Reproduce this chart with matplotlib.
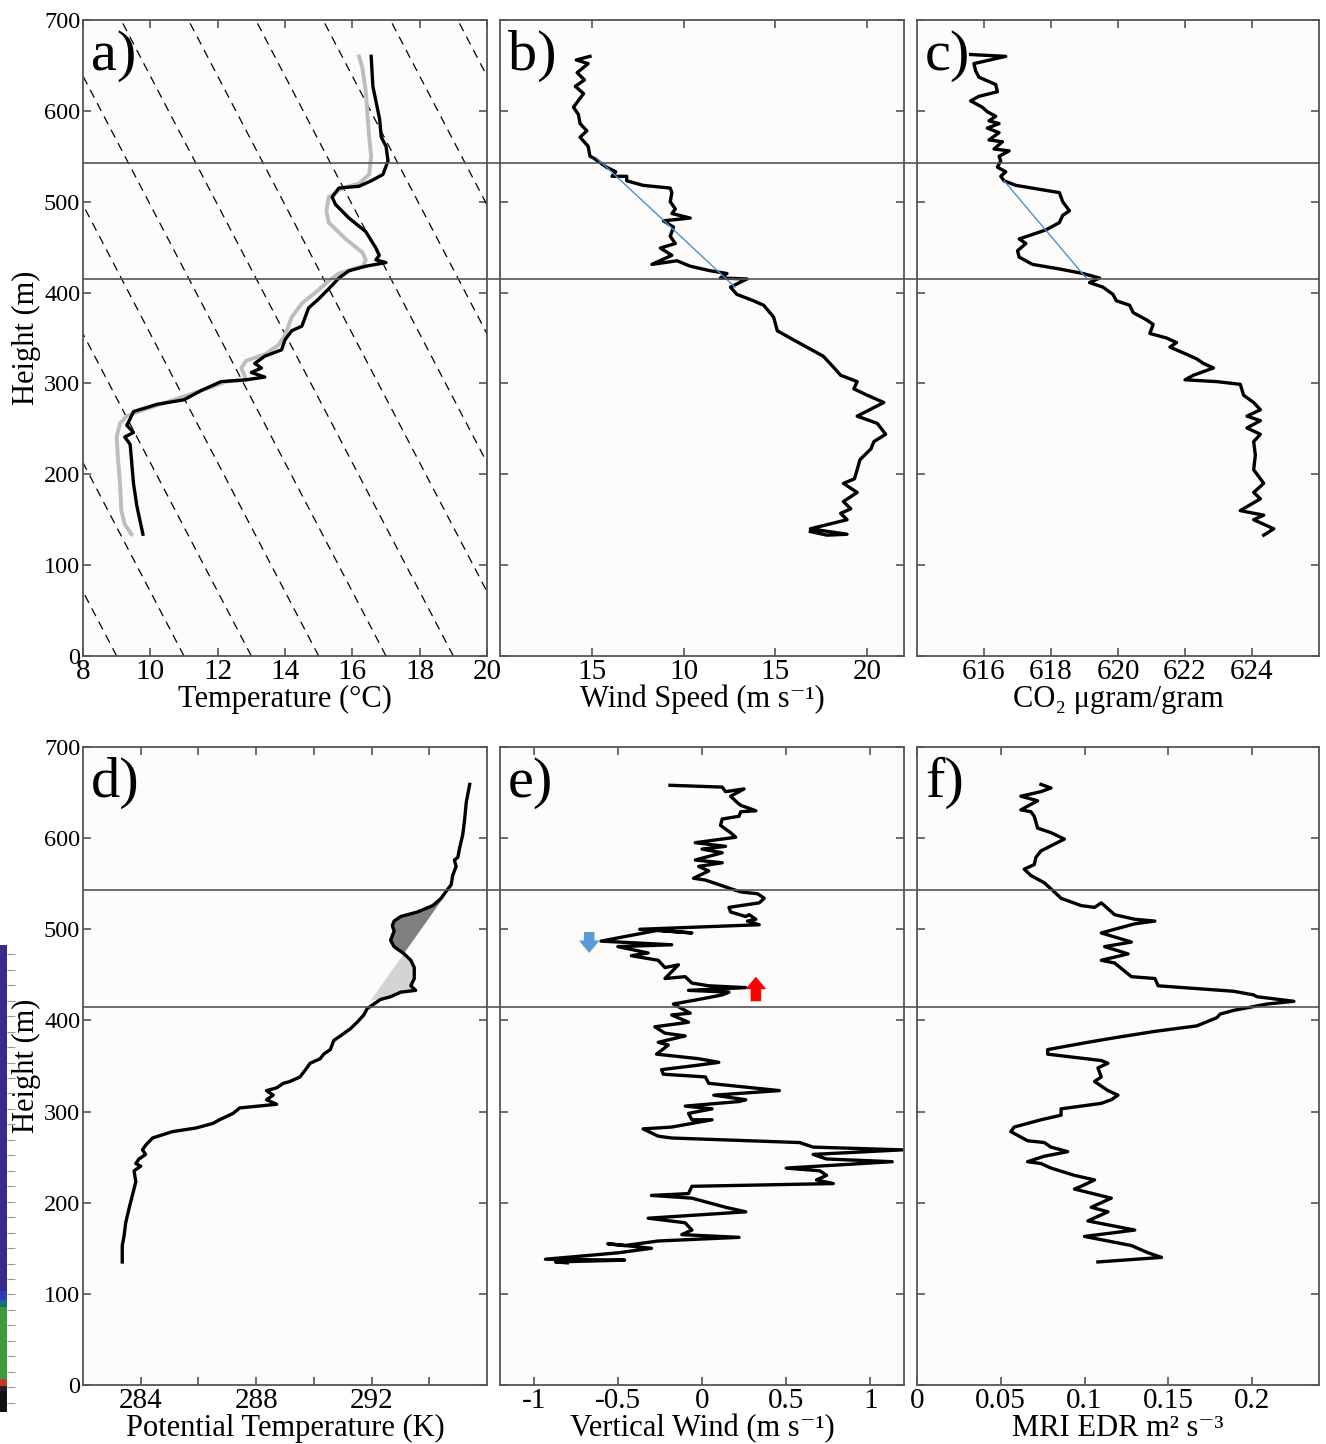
import matplotlib
matplotlib.use('Agg')
import matplotlib.pyplot as plt
import matplotlib.transforms as mtransforms
from matplotlib.lines import Line2D
import numpy as np

plt.rcParams['font.family'] = ['Liberation Serif', 'DejaVu Serif']
plt.rcParams['axes.unicode_minus'] = False

# ---- data (height in m) ----
layer_heights = [543, 415]

# a) temperature profiles
a_black_z = [660, 627, 591, 571, 561, 545, 530, 523, 517, 515, 505, 497, 482, 467, 449, 441, 436, 433,
             429, 424, 416, 408, 393, 383, 373, 363, 358, 348, 337, 330, 322, 317, 312, 307, 304, 302,
             292, 282, 277, 269, 261, 254, 246, 241, 233, 216, 190, 165, 134]
a_black_t = [16.56, 16.61, 16.81, 16.86, 17.0, 17.06, 16.91, 16.56, 16.2, 15.6, 15.4, 15.5, 15.9, 16.4,
             16.7, 16.8, 16.7, 17.0, 16.4, 15.9, 15.6, 15.4, 15.0, 14.7, 14.6, 14.5, 14.2, 14.0, 13.9,
             13.4, 13.1, 13.3, 13.0, 13.4, 12.85, 12.1, 11.5, 11.0, 10.2, 9.5, 9.4, 9.3, 9.5, 9.24,
             9.4, 9.44, 9.5, 9.6, 9.78]
a_gray_z = [660, 647, 621, 591, 571, 550, 530, 520, 515, 505, 490, 477, 459, 444, 436, 429, 421, 413,
            403, 388, 373, 353, 342, 332, 325, 317, 304, 302, 292, 282, 271, 264, 256, 241, 216, 190,
            160, 145, 134]
a_gray_t = [16.2, 16.3, 16.4, 16.46, 16.5, 16.56, 16.5, 16.2, 15.7, 15.3, 15.23, 15.3, 15.8, 16.3,
            16.4, 16.3, 15.6, 15.3, 15.0, 14.5, 14.2, 14.0, 13.8, 13.4, 12.85, 12.7, 12.85, 12.26,
            11.5, 10.7, 9.8, 9.3, 9.1, 9.0, 9.04, 9.1, 9.14, 9.24, 9.44]
# reference dashed lines: surface temperature and lapse rate (degC per m)
ref_t0 = [9, 11, 13, 15, 17, 19, 21, 23, 25, 27, 29]
ref_lapse = 0.0141

# b) wind speed
b_z = [660, 656, 652, 642, 634, 627, 619, 604, 596, 586, 578, 571, 561, 550, 548, 543, 538, 533, 528,
       528, 523, 518, 515, 510, 500, 492, 487, 482, 479, 472, 462, 454, 449, 441, 431, 435, 429, 424,
       421, 416, 415, 406, 398, 391, 386, 373, 358, 350, 340, 330, 317, 309, 302, 294, 287, 279, 264,
       256, 244, 236, 228, 216, 205, 195, 190, 180, 170, 162, 157, 150, 140, 134, 133, 137]
b_v = [4.9, 4.15, 4.8, 4.2, 4.6, 4.1, 4.55, 4.0, 4.27, 4.36, 4.73, 4.36, 4.8, 4.9, 5.1, 5.45, 5.8, 6.3,
       6.1, 6.9, 6.9, 7.8, 9.27, 9.36, 9.27, 9.55, 9.36, 10.36, 8.9, 9.45, 9.27, 9.55, 8.73, 9.36,
       8.27, 9.64, 10.36, 11.45, 12.36, 12.0, 13.45, 12.55, 12.9, 13.8, 14.36, 14.9, 15.1, 15.8, 16.7,
       17.6, 18.2, 18.55, 19.45, 19.27, 20.0, 20.9, 19.45, 20.55, 21.0, 20.36, 20.2, 19.6, 19.45, 19.3,
       18.7, 19.45, 18.7, 19.1, 18.55, 18.9, 16.9, 18.9, 17.8, 16.9]
b_fit_z = [548, 406]
b_fit_v = [5.27, 12.8]
b_ticks = [5, 10, 15, 20]
b_ticklabels = ['15', '10', '15', '20']

# c) CO2
c_z = [662, 660, 652, 644, 637, 629, 621, 616, 611, 604, 599, 594, 589, 586, 581, 576, 568, 566, 558,
       556, 550, 545, 538, 533, 528, 523, 518, 510, 500, 490, 485, 477, 469, 464, 459, 454, 446, 439,
       431, 426, 421, 416, 411, 406, 398, 391, 386, 378, 370, 365, 355, 350, 345, 340, 332, 327, 322,
       317, 309, 304, 302, 299, 287, 279, 271, 264, 259, 251, 244, 236, 221, 205, 190, 180, 173, 160,
       155, 150, 140, 133]
c_v = [615.6, 616.65, 615.7, 615.75, 615.85, 616.35, 616.4, 615.85, 615.6, 615.95, 616.1, 616.35,
       616.15, 616.45, 616.1, 616.45, 616.15, 616.55, 616.3, 616.75, 616.45, 616.5, 616.4, 616.65,
       616.5, 616.6, 616.95, 618.25, 618.35, 618.55, 618.35, 618.25, 617.85, 617.45, 617.05, 617.25,
       617.0, 617.05, 617.45, 618.25, 618.95, 619.45, 619.15, 619.55, 619.85, 619.95, 620.35, 620.45,
       620.85, 621.05, 620.95, 621.45, 621.75, 621.55, 622.05, 622.35, 622.55, 622.85, 622.25, 622.0,
       622.95, 623.65, 623.75, 624.05, 624.25, 623.85, 624.25, 623.85, 624.25, 624.05, 624.1, 624.05,
       624.35, 624.05, 624.25, 623.65, 624.35, 624.05, 624.65, 624.35]
c_fit_z = [523, 416]
c_fit_v = [616.6, 619.05]

# d) potential temperature
d_z = [659, 639, 619, 604, 589, 579, 576, 569, 559, 549, 544, 534, 526, 519, 514, 509, 504, 498, 488,
       481, 473, 466, 458, 446, 438, 433, 431, 426, 423, 418, 413, 406, 398, 391, 383, 378, 368, 363,
       358, 353, 348, 338, 333, 331, 326, 323, 318, 313, 308, 304, 298, 291, 287, 282, 278, 271, 263,
       258, 253, 248, 243, 240, 235, 223, 208, 193, 178, 163, 153, 135]
d_t = [295.4, 295.28, 295.22, 295.16, 295.05, 294.99, 294.87, 294.93, 294.81, 294.76, 294.64, 294.41,
       294.12, 293.59, 293.01, 292.78, 292.72, 292.78, 292.66, 292.78, 293.13, 293.36, 293.48, 293.48,
       293.36, 293.53, 293.01, 292.66, 292.31, 292.08, 291.85, 291.73, 291.5, 291.27, 290.92, 290.69,
       290.57, 290.34, 290.22, 289.87, 289.76, 289.52, 289.17, 288.94, 288.71, 288.36, 288.59, 288.36,
       288.71, 287.43, 287.2, 286.73, 286.5, 285.92, 285.1, 284.41, 284.17, 284.06, 284.17, 283.94,
       283.83, 284.0, 283.77, 283.83, 283.71, 283.59, 283.48, 283.42, 283.36, 283.36]
d_mix_z = [422, 543]
d_mix_t = [291.94, 294.65]

# e) vertical wind
e_z = [658, 656, 651, 654, 646, 639, 636, 630, 629, 624, 621, 614, 606, 601, 599, 595, 591, 588, 584,
       576, 573, 569, 564, 556, 554, 549, 544, 541, 539, 534, 529, 526, 524, 519, 514, 516, 511, 509,
       505, 500, 496, 499, 487, 483, 481, 474, 471, 466, 458, 461, 446, 448, 441, 438, 436, 433, 431,
       428, 423, 418, 408, 406, 398, 393, 386, 383, 376, 373, 363, 358, 354, 351, 346, 341, 338, 331,
       323, 318, 313, 311, 306, 303, 298, 291, 291, 283, 281, 273, 271, 266, 261, 258, 253, 248, 245,
       238, 235, 230, 225, 221, 218, 210, 208, 205, 195, 190, 183, 178, 170, 165, 162, 158, 153, 155,
       150, 145, 138, 137, 135, 134]
e_v = [-0.19, 0.12, 0.14, 0.25, 0.17, 0.21, 0.23, 0.32, 0.23, 0.22, 0.12, 0.11, 0.17, 0.2, 0.12,
       -0.04, 0.14, 0.0, 0.12, -0.04, 0.12, -0.02, 0.04, -0.05, 0.02, 0.1, 0.18, 0.23, 0.33, 0.37,
       0.34, 0.23, 0.16, 0.17, 0.26, 0.28, 0.32, 0.27, 0.34, -0.37, -0.06, -0.26, -0.6, -0.18, -0.5,
       -0.32, -0.42, -0.26, -0.22, -0.14, -0.22, -0.1, -0.06, 0.04, 0.26, -0.08, 0.16, 0.12, -0.02,
       -0.17, -0.07, -0.18, -0.08, -0.28, -0.22, -0.1, -0.26, -0.2, -0.27, -0.02, 0.1, -0.02, -0.24,
       -0.23, 0.02, 0.04, 0.46, 0.07, 0.26, 0.22, -0.1, 0.06, -0.08, -0.06, 0.06, -0.18, -0.35, -0.26,
       -0.18, 0.58, 0.66, 1.19, 0.66, 0.74, 1.13, 0.5, 0.7, 0.74, 0.68, 0.78, -0.06, -0.08, -0.3,
       -0.06, 0.14, 0.26, -0.32, -0.1, -0.06, -0.12, 0.22, -0.26, -0.46, -0.56, -0.3, -0.5, -0.93,
       -0.46, -0.87, -0.8]
down_arrow = (-0.67, 497, 474)   # x, tail z, tip z
up_arrow = (0.32, 421, 448)

# f) EDR
f_z = [659, 655, 651, 646, 641, 631, 629, 624, 611, 606, 599, 586, 579, 571, 566, 559, 551, 541, 534,
       526, 524, 529, 516, 511, 509, 506, 496, 486, 481, 473, 466, 463, 448, 446, 438, 432, 428, 426,
       421, 418, 411, 407, 403, 394, 388, 381, 376, 368, 363, 356, 353, 348, 338, 333, 323, 318, 313,
       309, 303, 296, 291, 283, 278, 268, 266, 261, 256, 251, 245, 243, 238, 230, 225, 218, 215, 205,
       195, 190, 180, 170, 163, 153, 145, 140, 135]
f_v = [0.074, 0.080, 0.074, 0.062, 0.072, 0.062, 0.068, 0.070, 0.072, 0.080, 0.088, 0.074, 0.071,
       0.070, 0.064, 0.068, 0.076, 0.082, 0.086, 0.098, 0.106, 0.110, 0.118, 0.130, 0.142, 0.130,
       0.110, 0.128, 0.112, 0.126, 0.110, 0.118, 0.128, 0.142, 0.144, 0.189, 0.201, 0.203, 0.225,
       0.209, 0.189, 0.181, 0.179, 0.167, 0.142, 0.118, 0.102, 0.078, 0.078, 0.110, 0.114, 0.108,
       0.110, 0.106, 0.114, 0.120, 0.116, 0.110, 0.086, 0.086, 0.074, 0.058, 0.056, 0.066, 0.076,
       0.080, 0.090, 0.076, 0.066, 0.074, 0.080, 0.094, 0.106, 0.098, 0.094, 0.116, 0.104, 0.114,
       0.102, 0.130, 0.100, 0.128, 0.138, 0.146, 0.108]

# cropped colour strip at the far left edge (fraction from top, colour)
strip_edges = [0.0, 0.74, 0.76, 0.775, 0.93, 0.945, 0.955, 1.0]
strip_colors = ['#3b2a8e', '#2a3cb8', '#1c6a7a', '#3d9a3a', '#c0392b', '#222222', '#111111']

# ---- figure ----
W, H = 1326, 1444
fig = plt.figure(figsize=(W / 100, H / 100), dpi=100)
fig.patch.set_facecolor('white')


def box(x0, x1, y0, y1):
    return [x0 / W, 1 - y1 / H, (x1 - x0) / W, (y1 - y0) / H]


cols = [(83, 487), (500, 904), (917, 1319)]
rows = [(20, 656), (747, 1385)]
axes = [[fig.add_axes(box(c[0], c[1], r[0], r[1])) for c in cols] for r in rows]
ax_a, ax_b, ax_c = axes[0]
ax_d, ax_e, ax_f = axes[1]

GRAY = '#555555'
LW = 2.4


def style(ax, letter, ylabels):
    ax.set_facecolor('#fdfcfa')
    ax.set_ylim(0, 700)
    ax.set_yticks(range(0, 701, 100))
    ax.tick_params(direction='in', top=True, right=True, length=6, width=1.2, color=GRAY)
    ax.tick_params(axis='x', labelsize=21, pad=2)
    ax.tick_params(axis='y', labelsize=17.5, pad=2)
    for s in ax.spines.values():
        s.set_color(GRAY)
        s.set_linewidth(1.3)
    if ylabels:
        ax.set_ylabel('Height (m)', fontsize=22, labelpad=2)
    else:
        ax.set_yticklabels([])
    ax.text(0.02, 0.985, letter, transform=ax.transAxes, fontsize=42, va='top', ha='left')


# a)
for t0 in ref_t0:
    ax_a.plot([t0, t0 - ref_lapse * 700], [0, 700], color='black', lw=0.9, dashes=(7, 5))
ax_a.plot(a_gray_t, a_gray_z, color='#bdbdbd', lw=2.8)
ax_a.plot(a_black_t, a_black_z, color='black', lw=LW)
ax_a.set_xlim(8, 20)
ax_a.set_xticks(range(8, 21, 2))
ax_a.set_xlabel('Temperature (°C)', fontsize=22, labelpad=0)
style(ax_a, 'a)', True)

# b)
ax_b.plot(b_v, b_z, color='black', lw=LW)
ax_b.plot(b_fit_v, b_fit_z, color='#4a8fd6', lw=1.0)
ax_b.set_xlim(0, 22)
ax_b.set_xticks(b_ticks)
ax_b.set_xticklabels(b_ticklabels)
ax_b.set_xlabel('Wind Speed (m s⁻¹)', fontsize=22, labelpad=0)
style(ax_b, 'b)', False)

# c)
ax_c.plot(c_v, c_z, color='black', lw=LW)
ax_c.plot(c_fit_v, c_fit_z, color='#4a8fd6', lw=1.0)
ax_c.set_xlim(614, 626)
ax_c.set_xticks(range(616, 625, 2))
ax_c.set_xlabel('CO₂ μgram/gram', fontsize=22, labelpad=0)
style(ax_c, 'c)', False)

# d)
dz = np.array(d_z)
dt = np.array(d_t)
sel = (dz >= d_mix_z[0]) & (dz <= d_mix_z[1])
mix = np.interp(dz[sel], d_mix_z, d_mix_t)
ax_d.fill_betweenx(dz[sel], dt[sel], mix, where=dt[sel] <= mix, interpolate=True,
                   color='#7f7f7f', lw=0)
ax_d.fill_betweenx(dz[sel], dt[sel], mix, where=dt[sel] >= mix, interpolate=True,
                   color='#d4d4d4', lw=0)
ax_d.plot(dt, dz, color='black', lw=LW)
ax_d.set_xlim(282, 296)
ax_d.set_xticks(range(284, 295, 2))
ax_d.set_xticklabels(['284', '', '288', '', '292', ''])
ax_d.set_xlabel('Potential Temperature (K)', fontsize=22, labelpad=0)
style(ax_d, 'd)', True)

# e)
ax_e.plot(e_v, e_z, color='black', lw=LW)
for (x, z0, z1), col in [(down_arrow, '#5b9bd5'), (up_arrow, '#ff0000')]:
    ax_e.annotate('', xy=(x, z1), xytext=(x, z0),
                  arrowprops=dict(arrowstyle='simple,head_width=0.75,head_length=0.45,tail_width=0.38',
                                  color=col, lw=0, mutation_scale=20, shrinkA=0, shrinkB=0))
ax_e.set_xlim(-1.2, 1.2)
ax_e.set_xticks([-1, -0.5, 0, 0.5, 1])
ax_e.set_xticklabels(['-1', '-0.5', '0', '0.5', '1'])
ax_e.set_xlabel('Vertical Wind (m s⁻¹)', fontsize=22, labelpad=0)
style(ax_e, 'e)', False)

# f)
ax_f.plot(f_v, f_z, color='black', lw=LW)
ax_f.set_xlim(0, 0.24)
ax_f.set_xticks([0, 0.05, 0.1, 0.15, 0.2])
ax_f.set_xticklabels(['0', '0.05', '0.1', '0.15', '0.2'])
ax_f.set_xlabel('MRI EDR m² s⁻³', fontsize=22, labelpad=0)
style(ax_f, 'f)', False)

# layer boundaries spanning each row
for ax_row in (ax_a, ax_d):
    tr = mtransforms.blended_transform_factory(fig.transFigure, ax_row.transData)
    for hz in layer_heights:
        fig.add_artist(Line2D([cols[0][0] / W, cols[2][1] / W], [hz, hz], transform=tr,
                              color=GRAY, lw=1.2, zorder=5))

# cropped colour strip
ax_s = fig.add_axes(box(0, 7, 945, 1412))
for i, col in enumerate(strip_colors):
    ax_s.axhspan(1 - strip_edges[i + 1], 1 - strip_edges[i], color=col, lw=0)
ax_s.set_xlim(0, 1)
ax_s.set_ylim(0, 1)
ax_s.set_xticks([])
ax_s.set_yticks(np.linspace(0.02, 0.98, 30))
ax_s.tick_params(axis='y', left=False, right=True, labelleft=False, direction='out',
                 length=6, width=0.8, color='#999999')
for s in ax_s.spines.values():
    s.set_visible(False)

fig.savefig('out.png', dpi=100, facecolor='white')
